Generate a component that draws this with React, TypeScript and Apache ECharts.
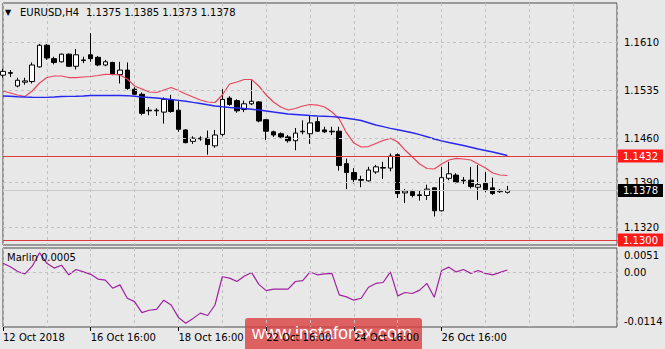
import React, { useEffect, useRef } from "react";
import * as echarts from "echarts";

// ---- data (EURUSD H4) ----
const OPEN = [
  1.1559, 1.1563, 1.1542, 1.1548, 1.1549, 1.1572, 1.1606, 1.1585, 1.1580, 1.1592,
  1.1573, 1.1582, 1.1591, 1.1587, 1.1575, 1.1579, 1.1560, 1.1567, 1.1537, 1.1529,
  1.1504, 1.1503, 1.1501, 1.1520, 1.1504, 1.1473, 1.1455, 1.1460, 1.1460, 1.1448,
  1.1466, 1.1523, 1.1519, 1.1505, 1.1514, 1.1517, 1.1489, 1.1470, 1.1467, 1.1462,
  1.1456, 1.1470, 1.1467, 1.1486, 1.1473, 1.1471, 1.1471, 1.1420, 1.1406, 1.1395,
  1.1393, 1.1407, 1.1413, 1.1413, 1.1434, 1.1374, 1.1376, 1.1371, 1.1370, 1.1382,
  1.1346, 1.1397, 1.1402, 1.1394, 1.1394, 1.1383, 1.1389, 1.1382, 1.1376, 1.1375,
];
const HIGH = [
  1.1569, 1.1567, 1.1555, 1.1555, 1.1579, 1.1608, 1.1608, 1.1588, 1.1593, 1.1593,
  1.1600, 1.1588, 1.1625, 1.1589, 1.1583, 1.1580, 1.1580, 1.1579, 1.1540, 1.1532,
  1.1509, 1.1507, 1.1524, 1.1528, 1.1518, 1.1474, 1.1463, 1.1463, 1.1472, 1.1473,
  1.1537, 1.1526, 1.1521, 1.1519, 1.1551, 1.1518, 1.1490, 1.1472, 1.1469, 1.1465,
  1.1476, 1.1488, 1.1496, 1.1493, 1.1478, 1.1478, 1.1478, 1.1428, 1.1413, 1.1401,
  1.1415, 1.1418, 1.1423, 1.1436, 1.1436, 1.1380, 1.1379, 1.1378, 1.1387, 1.1383,
  1.1415, 1.1423, 1.1405, 1.1399, 1.1415, 1.1418, 1.1407, 1.1398, 1.1380, 1.1385,
];
const LOW = [
  1.1555, 1.1556, 1.1540, 1.1544, 1.1546, 1.1571, 1.1583, 1.1576, 1.1579, 1.1572,
  1.1568, 1.1578, 1.1580, 1.1573, 1.1573, 1.1559, 1.1546, 1.1536, 1.1528, 1.1496,
  1.1496, 1.1495, 1.1483, 1.1500, 1.1470, 1.1452, 1.1451, 1.1456, 1.1434, 1.1445,
  1.1463, 1.1511, 1.1500, 1.1501, 1.1512, 1.1485, 1.1457, 1.1462, 1.1460, 1.1453,
  1.1441, 1.1466, 1.1451, 1.1470, 1.1468, 1.1465, 1.1409, 1.1380, 1.1389, 1.1383,
  1.1392, 1.1404, 1.1396, 1.1408, 1.1366, 1.1358, 1.1367, 1.1362, 1.1363, 1.1337,
  1.1345, 1.1394, 1.1389, 1.1388, 1.1381, 1.1363, 1.1375, 1.1371, 1.1374, 1.1373,
];
const CLOSE = [
  1.1565, 1.1562, 1.1551, 1.1550, 1.1575, 1.1606, 1.1586, 1.1579, 1.1592, 1.1573,
  1.1591, 1.1583, 1.1585, 1.1575, 1.1580, 1.1560, 1.1567, 1.1538, 1.1529, 1.1499,
  1.1503, 1.1504, 1.1521, 1.1502, 1.1474, 1.1453, 1.1460, 1.1459, 1.1450, 1.1465,
  1.1521, 1.1513, 1.1503, 1.1514, 1.1518, 1.1487, 1.1471, 1.1465, 1.1462, 1.1456,
  1.1468, 1.1471, 1.1484, 1.1471, 1.1470, 1.1470, 1.1417, 1.1406, 1.1395, 1.1394,
  1.1410, 1.1415, 1.1414, 1.1432, 1.1373, 1.1377, 1.1370, 1.1370, 1.1380, 1.1346,
  1.1398, 1.1404, 1.1391, 1.1393, 1.1384, 1.1387, 1.1379, 1.1373, 1.1378, 1.1378,
];
const MA_FAST = [
  1.15341, 1.1531, 1.15279, 1.15255, 1.15341, 1.15467, 1.15553, 1.15577, 1.15577, 1.15553,
  1.15553, 1.15561, 1.15569, 1.15585, 1.15604, 1.15601, 1.15593, 1.1553, 1.1542, 1.15373,
  1.15326, 1.15318, 1.15357, 1.15396, 1.15349, 1.15294, 1.15247, 1.152, 1.15169, 1.15161,
  1.15279, 1.15451, 1.15483, 1.15522, 1.15522, 1.1542, 1.15279, 1.15169, 1.1509, 1.15043,
  1.15066, 1.15106, 1.15129, 1.15121, 1.1509, 1.15011, 1.14902, 1.14682, 1.14524, 1.14462,
  1.14469, 1.14517, 1.14564, 1.14598, 1.1454, 1.14414, 1.14305, 1.14195, 1.14124, 1.14116,
  1.14195, 1.14257, 1.14284, 1.14273, 1.14257, 1.14195, 1.14132, 1.14053, 1.14022, 1.14014,
];
const MA_SLOW = [
  1.15263, 1.15258, 1.15252, 1.15247, 1.15244, 1.15242, 1.15242, 1.15247, 1.15255, 1.15257,
  1.15258, 1.15263, 1.15271, 1.15271, 1.15271, 1.15271, 1.15271, 1.15268, 1.15258, 1.15247,
  1.15239, 1.15231, 1.1522, 1.15208, 1.15194, 1.1518, 1.15162, 1.15145, 1.15125, 1.15106,
  1.15093, 1.15082, 1.15074, 1.15066, 1.15055, 1.15043, 1.15027, 1.15011, 1.14996, 1.1498,
  1.14972, 1.14964, 1.14956, 1.14949, 1.14944, 1.14939, 1.14928, 1.14914, 1.14897, 1.14878,
  1.14843, 1.14807, 1.14781, 1.14755, 1.14733, 1.1471, 1.14685, 1.14656, 1.14623, 1.14587,
  1.14557, 1.14532, 1.14509, 1.14485, 1.14458, 1.1443, 1.14407, 1.14383, 1.14356, 1.14328,
];
const MARLIN = [
  0.0019, 0.0012, 0.0002, -0.0003, 0.0013, 0.0041, 0.0019, 0.0009, 0.0015, -0.0005,
  0.0006, 0.0001, -0.0004, -0.0014, -0.0016, -0.0033, -0.0026, -0.0054, -0.0061, -0.0084,
  -0.0079, -0.0077, -0.0058, -0.0068, -0.0094, -0.0106, -0.0096, -0.0085, -0.009, -0.0068,
  -0.0009, -0.0012, -0.0019, -0.0008, 0.0, -0.0025, -0.0038, -0.0035, -0.0035, -0.0035,
  -0.0019, -0.0017, 0.0001, -0.0005, -0.0003, -0.0002, -0.0047, -0.0051, -0.0058, -0.0054,
  -0.0031, -0.0023, -0.0021, 0.0001, -0.0049, -0.0042, -0.0044, -0.0037, -0.0023, -0.0052,
  0.0004, 0.0011, 0.0001, 0.0006, -0.0002, 0.0004, -0.0002, -0.0005, 0.0, 0.0005,
];
const PRICE_TICKS = [1.161, 1.1535, 1.146, 1.139, 1.132];
const PRICE_MIN = 1.12922;
const PRICE_MAX = 1.16724;
const LEVELS = [1.1432, 1.13];
const BID = 1.1378;
const MARLIN_MIN = -0.0114;
const MARLIN_MAX = 0.0051;
const TICK_INDEX = [0, 12, 24, 36, 48, 60];
const TICK_LABELS = ["12 Oct 2018", "16 Oct 16:00", "18 Oct 16:00", "22 Oct 16:00", "24 Oct 16:00", "26 Oct 16:00"];
const FUTURE_BARS = 15;
const SYMBOL = "EURUSD,H4";

const MONTHS = ["Jan", "Feb", "Mar", "Apr", "May", "Jun", "Jul", "Aug", "Sep", "Oct", "Nov", "Dec"];
function buildCategories(n: number): string[] {
  const out: string[] = [];
  let t = Date.UTC(2018, 9, 12, 16);
  while (out.length < n) {
    const d = new Date(t);
    const wd = d.getUTCDay();
    if (wd !== 0 && wd !== 6) {
      const hh = String(d.getUTCHours()).padStart(2, "0");
      out.push(`${d.getUTCDate()} ${MONTHS[d.getUTCMonth()]} ${hh}:00`);
    }
    t += 4 * 3600 * 1000;
  }
  return out;
}

const FONT = "DejaVu Sans";
const BG = "#e8e8e8";

export default function App() {
  const ref = useRef<HTMLDivElement>(null);
  useEffect(() => {
    if (!ref.current) return;
    const chart = echarts.init(ref.current, null, { renderer: "svg" });
    const n = OPEN.length;
    const cats = buildCategories(n + FUTURE_BARS);
    const candles = OPEN.map((o, i) => [o, CLOSE[i], LOW[i], HIGH[i]]);
    const txt = { fontFamily: FONT, fontSize: 10, color: "#000" };
    const dash = { color: "#c2c2c2", type: [3, 3] as any, width: 1 };
    const hidden = { color: "rgba(0,0,0,0)", width: 0 };
    const plainLabel = (text: string, extra: any = {}) => ({
      show: true, position: "end", distance: 7, formatter: text, ...txt, ...extra,
    });
    const boxLabel = (text: string, bg: string) => ({
      show: true, position: "end", distance: 1, formatter: text, fontFamily: FONT, fontSize: 10,
      color: "#fff", backgroundColor: bg, padding: [1, 5, 0, 5], lineHeight: 12,
    });
    const tickSet = new Set(TICK_INDEX);
    const xBase = {
      type: "category", data: cats, boundaryGap: false,
      axisLine: { show: false, onZero: false },
      splitLine: { show: true, interval: (i: number) => i % 6 === 0, lineStyle: dash },
    };
    const ohlc = [OPEN[n - 1], HIGH[n - 1], LOW[n - 1], CLOSE[n - 1]].map((v) => v.toFixed(4)).join(" ");
    const mlBase = { silent: true, symbol: ["none", "none"], animation: false, precision: 6 };

    chart.setOption({
      animation: false,
      backgroundColor: BG,
      grid: [
        { left: 3, top: 3, width: 614, height: 242, show: true, borderColor: "#4a4a4a", borderWidth: 1, backgroundColor: "transparent" },
        { left: 3, top: 248, width: 614, height: 79, show: true, borderColor: "#4a4a4a", borderWidth: 1, backgroundColor: "transparent" },
      ],
      xAxis: [
        { ...xBase, gridIndex: 0, axisTick: { show: false }, axisLabel: { show: false } },
        {
          ...xBase, gridIndex: 1,
          axisTick: { show: true, interval: (i: number) => tickSet.has(i), length: 4, lineStyle: { color: "#000" } },
          axisLabel: {
            show: true, interval: (i: number) => tickSet.has(i), align: "left", margin: 5, ...txt,
            formatter: (_v: string, i: number) => TICK_LABELS[TICK_INDEX.indexOf(i)] ?? "",
          },
        },
      ],
      yAxis: [
        { type: "value", gridIndex: 0, min: PRICE_MIN, max: PRICE_MAX, position: "right", axisLine: { show: false }, axisTick: { show: false }, axisLabel: { show: false }, splitLine: { show: false } },
        { type: "value", gridIndex: 1, min: MARLIN_MIN, max: MARLIN_MAX, position: "right", axisLine: { show: false }, axisTick: { show: false }, axisLabel: { show: false }, splitLine: { show: false } },
      ],
      series: [
        {
          type: "line", xAxisIndex: 0, yAxisIndex: 0, data: MA_SLOW, symbol: "none", silent: true, z: 1,
          lineStyle: { opacity: 0 },
          markLine: {
            ...mlBase,
            data: PRICE_TICKS.map((v) => ({ yAxis: v, lineStyle: dash, label: plainLabel(v.toFixed(4)) })),
          },
        },
        {
          type: "candlestick", xAxisIndex: 0, yAxisIndex: 0, data: candles, barWidth: 5, z: 3,
          itemStyle: { color: "#ffffff", color0: "#000000", borderColor: "#000000", borderColor0: "#000000", borderWidth: 1 },
        },
        {
          type: "line", xAxisIndex: 0, yAxisIndex: 0, data: MA_FAST, symbol: "none", z: 4,
          lineStyle: { color: "#e8455e", width: 1.2 },
        },
        {
          type: "line", xAxisIndex: 0, yAxisIndex: 0, data: MA_SLOW, symbol: "none", z: 4,
          lineStyle: { color: "#2727f0", width: 1.4 },
          markLine: {
            ...mlBase,
            data: [
              { yAxis: BID, lineStyle: { color: "#c8c8c8", type: "solid", width: 1 }, label: boxLabel(BID.toFixed(4), "#000000") },
              ...LEVELS.map((v) => ({ yAxis: v, lineStyle: { color: "#e23a3a", type: "solid", width: 1 }, label: boxLabel(v.toFixed(4), "#ff1a1a") })),
            ],
          },
        },
        {
          type: "line", xAxisIndex: 1, yAxisIndex: 1, data: MARLIN, symbol: "none", z: 4,
          lineStyle: { color: "#a020a0", width: 1.2 },
          markLine: {
            ...mlBase,
            data: [
              { yAxis: 0, lineStyle: dash, label: plainLabel("0.00") },
              { yAxis: MARLIN_MAX, lineStyle: hidden, label: plainLabel(MARLIN_MAX.toFixed(4), { verticalAlign: "top", padding: [2, 0, 0, 0] }) },
              { yAxis: MARLIN_MIN, lineStyle: hidden, label: plainLabel(MARLIN_MIN.toFixed(4), { verticalAlign: "bottom", padding: [0, 0, 1, 0] }) },
            ],
          },
        },
      ],
      graphic: [
        { type: "text", left: 5, top: 8, style: { text: "▼", fontFamily: FONT, fontSize: 8, fill: "#000" }, z: 10 },
        { type: "text", x: 20, y: 12, style: { text: SYMBOL, fontFamily: FONT, fontSize: 10, fill: "#000", verticalAlign: "middle" }, z: 10 },
        { type: "text", x: 86, y: 12, style: { text: ohlc, fontFamily: FONT, fontSize: 10, fill: "#000", verticalAlign: "middle" }, z: 10 },
        { type: "text", x: 7, y: 257, style: { text: `Marlin ${MARLIN[n - 1].toFixed(4)}`, fontFamily: FONT, fontSize: 10, fill: "#000", verticalAlign: "middle" }, z: 10 },
        {
          type: "group", z: 20,
          children: [
            { type: "rect", shape: { x: 245, y: 318, width: 177, height: 33, r: 3 }, style: { fill: "rgba(218,62,62,0.8)" } },
            { type: "text", x: 332, y: 333, style: { text: "www.instaforex.com", fontFamily: "Liberation Sans", fontSize: 18, fill: "#ffffff", align: "center", verticalAlign: "middle" } },
          ],
        },
      ],
    });
    return () => chart.dispose();
  }, []);
  return <div ref={ref} style={{ position: "absolute", left: 0, top: 0, width: 665, height: 349, background: BG }} />;
}
